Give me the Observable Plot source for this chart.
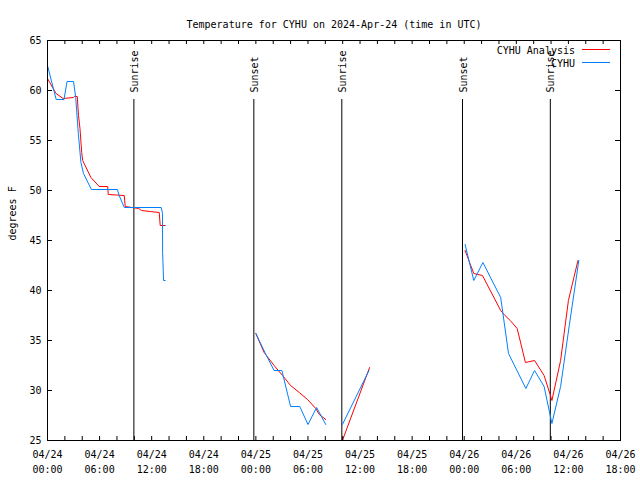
<!DOCTYPE html>
<html><head><meta charset="utf-8">
<script src="https://cdn.jsdelivr.net/npm/d3@7"></script>
<script src="https://cdn.jsdelivr.net/npm/@observablehq/plot@0.6"></script>
<style>body{margin:0;background:#fff} #chart{width:640px;height:480px}</style>
</head><body><div id="chart"></div>
<script>
// ---- data (hours after 2024-04-24 00:00 UTC) ----
const startTime = "2024-04-24T00:00:00Z";
const titleText = "Temperature for CYHU on 2024-Apr-24 (time in UTC)";
const yLabel = "degrees F";
const seriesNames = ["CYHU Analysis", "CYHU"];

const obsHours   = [0, 1.0, 1.9, 2.25, 3.0, 3.25, 3.55, 3.85, 4.15, 5.05, 8.05, 8.25, 8.85, 13.1, 13.25, 13.26, 13.37, 13.55,
                    24.0, 25.1, 26.1, 27.0, 28.0, 29.06, 30.0, 31.0, 32.05,
                    33.97, 37.03,
                    48.1, 49.1, 50.15, 52.2, 53.1, 55.1, 56.1, 57.2, 58.1, 59.1, 60.1, 61.2];
const obsTemps   = [62.5, 59.1, 59.1, 60.9, 60.9, 59.3, 55.7, 52.8, 51.7, 50.1, 50.1, 49.5, 48.3, 48.3, 47.7, 43.8, 41.0, 41.0,
                    35.7, 33.7, 32.0, 32.0, 28.4, 28.4, 26.6, 28.3, 26.6,
                    26.6, 32.0,
                    44.6, 41.0, 42.8, 39.3, 33.7, 30.2, 32.0, 30.4, 26.7, 30.4, 36.5, 43.0];
const obsSegment = [1,1,1,1,1,1,1,1,1,1,1,1,1,1,1,1,1,1,
                    2,2,2,2,2,2,2,2,2,
                    3,3,
                    4,4,4,4,4,4,4,4,4,4,4,4];

const anaHours   = [0, 0.98, 1.8, 3.0, 3.1, 3.43, 3.57, 3.74, 3.94, 4.05, 5.0, 5.96, 6.93, 7.0, 8.84, 8.95, 9.72, 10.5, 10.84, 11.83, 12.87, 12.98, 13.56,
                    24.0, 24.95, 26.1, 27.07, 28.0, 29.0, 29.95, 30.9, 31.3, 32.05,
                    33.97, 37.1,
                    48.1, 48.75, 49.1, 50.1, 52.2, 52.7, 53.3, 54.1, 55.05, 56.1, 57.2, 57.86, 58.1, 59.1, 60.0, 61.1];
const anaTemps   = [61.2, 59.7, 59.2, 59.3, 59.4, 59.4, 57.5, 56.2, 53.8, 53.0, 51.3, 50.4, 50.4, 49.6, 49.5, 48.4, 48.3, 48.2, 48.0, 47.9, 47.8, 46.5, 46.5,
                    35.7, 33.8, 32.5, 31.5, 30.5, 29.8, 29.1, 28.2, 27.6, 27.1,
                    25.0, 32.3,
                    44.0, 42.5, 41.7, 41.5, 38.0, 37.5, 37.0, 36.2, 32.8, 33.0, 31.5, 29.7, 29.0, 33.0, 39.0, 43.0];
const anaSegment = [1,1,1,1,1,1,1,1,1,1,1,1,1,1,1,1,1,1,1,1,1,1,1,
                    2,2,2,2,2,2,2,2,2,2,
                    3,3,
                    4,4,4,4,4,4,4,4,4,4,4,4,4,4,4,4];

const sunLabels = ["Sunrise", "Sunset", "Sunrise", "Sunset", "Sunrise"];
const sunTimes  = ["2024-04-24T09:57:00Z", "2024-04-24T23:46:00Z", "2024-04-25T09:54:00Z", "2024-04-25T23:48:00Z", "2024-04-26T09:55:00Z"];

const xLabelHours = [0, 6, 12, 18, 24, 30, 36, 42, 48, 54, 60, 66];
const xTickHours  = [0,2,4,6,8,10,12,14,16,18,20,22,24,26,28,30,32,34,36,38,40,42,44,46,48,50,52,54,56,58,60,62,64,66];
const yTicks      = [25, 30, 35, 40, 45, 50, 55, 60, 65];

// ---- build ----
const t0 = Date.parse(startTime);
const toDate = h => new Date(t0 + h * 3600e3);
const obs = obsHours.map((h, i) => ({t: toDate(h), v: obsTemps[i], s: obsSegment[i]}));
const ana = anaHours.map((h, i) => ({t: toDate(h), v: anaTemps[i], s: anaSegment[i]}));
const sun = sunTimes.map((s, i) => ({t: new Date(s), label: sunLabels[i]}));
const fmt = d3.utcFormat("%m/%d\n%H:%M");
const xLabels = xLabelHours.map(h => ({t: toDate(h), label: fmt(toDate(h))}));
const xTicks = xTickHours.map(toDate);

const W = 640, H = 480, ML = 47, MR = 20, MT = 40, MB = 40;
const PW = W - ML - MR, PH = H - MT - MB;
const redC = "#ff0000", blueC = "#0080ff";

const plot = Plot.plot({
  width: W, height: H,
  marginLeft: ML, marginRight: MR, marginTop: MT, marginBottom: MB,
  style: {fontFamily: "'DejaVu Sans Mono', monospace", fontSize: "10px", background: "white", color: "black", overflow: "visible"},
  x: {type: "utc", domain: [toDate(0), toDate(66)], axis: null},
  y: {domain: [25, 65], axis: null},
  marks: [
    Plot.ruleX(sun, {x: "t", stroke: "black", insetTop: 59}),
    Plot.text(sun, {x: "t", text: "label", frameAnchor: "top", rotate: -90, textAnchor: "start", dy: 52, dx: -3, fill: "black"}),
    Plot.line(ana, {x: "t", y: "v", z: "s", stroke: redC, strokeWidth: 1}),
    Plot.line(obs, {x: "t", y: "v", z: "s", stroke: blueC, strokeWidth: 1}),
    Plot.ruleX(xTicks, {x: d => d, insetTop: PH - 4, stroke: "black"}),
    Plot.ruleX(xTicks, {x: d => d, insetBottom: PH - 4, stroke: "black"}),
    Plot.ruleY(yTicks, {y: d => d, insetRight: PW - 5, stroke: "black"}),
    Plot.ruleY(yTicks, {y: d => d, insetLeft: PW - 5, stroke: "black"}),
    Plot.frame({stroke: "black"}),
    Plot.text(yTicks, {y: d => d, text: d => String(d), frameAnchor: "left", dx: -6, textAnchor: "end", fill: "black"}),
    Plot.text(xLabels, {x: "t", text: "label", frameAnchor: "bottom", dy: 32.5, lineHeight: 1.5, fill: "black"}),
    Plot.text([titleText], {text: d => d, frameAnchor: "top", dy: -20, fill: "black"}),
    Plot.text([yLabel], {text: d => d, frameAnchor: "left", dx: -35, rotate: -90, fill: "black"}),
    Plot.text([seriesNames[0]], {text: d => d, frameAnchor: "top-right", dx: -45.5, dy: 6, textAnchor: "end", fill: "black"}),
    Plot.text([seriesNames[1]], {text: d => d, frameAnchor: "top-right", dx: -45.5, dy: 19, textAnchor: "end", fill: "black"})
  ]
});

// legend line samples
const svg = d3.select(plot);
[[redC, 49.5], [blueC, 62.5]].forEach(([c, y]) => {
  svg.append("line").attr("x1", 582).attr("x2", 610).attr("y1", y).attr("y2", y)
     .attr("stroke", c).attr("stroke-width", 1);
});

document.getElementById("chart").appendChild(plot);
</script>
</body></html>
